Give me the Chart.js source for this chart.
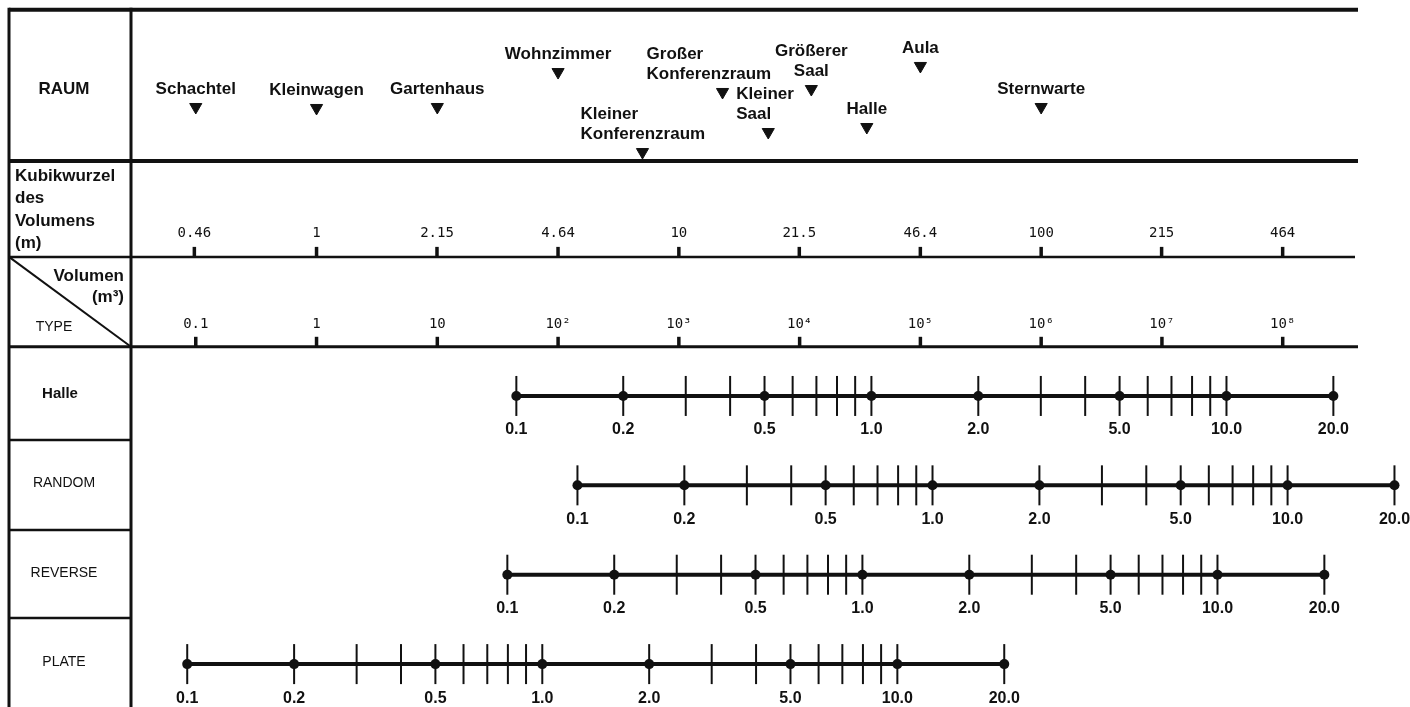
<!DOCTYPE html>
<html>
<head>
<meta charset="utf-8">
<script src="https://cdn.jsdelivr.net/npm/chart.js@4.4.0/dist/chart.umd.min.js"></script>
<style>
  html, body { margin: 0; padding: 0; background: #fff; }
  #wrap { width: 1410px; height: 707px; }
</style>
</head>
<body>
<div id="wrap"><canvas id="nomogramm" width="1410" height="707"></canvas></div>
<script>
const raeume = ['Schachtel', 'Kleinwagen', 'Gartenhaus', 'Wohnzimmer', 'Kleiner Konferenzraum',
    'Großer Konferenzraum', 'Kleiner Saal', 'Größerer Saal', 'Halle', 'Aula', 'Sternwarte'];
const raumVolumen = [0.1, 1, 10, 100, 500, 2300, 5500, 12500, 36000, 1e5, 1e6];

// Skalen oben: Kubikwurzel und Volumen
const kubikWerte = [0.46, 1, 2.15, 4.64, 10, 21.5, 46.4, 100, 215, 464];
const kubikLabels = ['0.46', '1', '2.15', '4.64', '10', '21.5', '46.4', '100', '215', '464'];
const volumenTicks = [0.1, 1, 10, 1e2, 1e3, 1e4, 1e5, 1e6, 1e7, 1e8];
const volumenLabels = ['0.1', '1', '10', '10²', '10³', '10⁴', '10⁵', '10⁶', '10⁷', '10⁸'];

// Typen mit Nachhallzeit-Skala (s); Volumen, das bei 1.0 s liegt
const typen = ['Halle', 'RANDOM', 'REVERSE', 'PLATE'];
const typVolumenBei1s = [39300, 126000, 33100, 74];
const zeitHaupt = [0.1, 0.2, 0.5, 1, 2, 5, 10, 20];
const zeitHauptLabels = ['0.1', '0.2', '0.5', '1.0', '2.0', '5.0', '10.0', '20.0'];
const zeitNeben = [0.3, 0.4, 0.6, 0.7, 0.8, 0.9, 3, 4, 6, 7, 8, 9];

// Volumen-Dekaden pro Zeit-Dekade (im Bild ~2.94)
const dekadenFaktor = 2.94;

// --- Layout (keine Daten) ---
const yMin = 0.02, yMax = 7.93;
const pxProEinheit = 707 / (yMax - yMin);
const zeilen = { oben: 7.82, raum: 6.13, kubik: 5.056, volumen: 4.05, typGrenzen: [3.008, 2.0, 1.015] };
const raumEbene = [6.733, 6.722, 6.733, 7.124, 6.229, 6.901, 6.453, 6.934, 6.509, 7.192, 6.733];
const raumText = [null, null, null, null, { align: 'left', dx: -62 }, { align: 'left', dx: -76 },
    { align: 'left', dx: -32 }, null, null, null, null];
const tinte = '#111';
const schrift = "'Liberation Sans', Arial, Helvetica, sans-serif";

function typZeile(i) { return typen.length - i - 0.5; }
function zeitZuVolumen(i, t) { return typVolumenBei1s[i] * Math.pow(t, dekadenFaktor); }

const datasets = [];

// Dreiecke der Räume
datasets.push({
    label: 'Räume',
    data: raeume.map((r, i) => ({ x: raumVolumen[i], y: raumEbene[i] })),
    pointStyle: 'triangle', rotation: 180, pointRadius: 7,
    backgroundColor: tinte, borderColor: tinte, borderWidth: 1
});

// Striche auf den oberen Achsen
const strichOffset = 5 / pxProEinheit;
datasets.push({
    label: 'Kubikwurzel',
    data: kubikWerte.map(k => ({ x: Math.pow(k, 3), y: zeilen.kubik + strichOffset })),
    pointStyle: 'line', rotation: 90, pointRadius: 5, borderWidth: 3.5, borderColor: tinte
});
datasets.push({
    label: 'Volumen',
    data: volumenTicks.map(v => ({ x: v, y: zeilen.volumen + strichOffset })),
    pointStyle: 'line', rotation: 90, pointRadius: 5, borderWidth: 3.5, borderColor: tinte
});

// Zeitskalen je Typ
typen.forEach((typ, i) => {
    const y = typZeile(i);
    datasets.push({
        label: typ + ' Punkte',
        data: zeitHaupt.map(t => ({ x: zeitZuVolumen(i, t), y })),
        pointStyle: 'circle', pointRadius: 5, backgroundColor: tinte, borderWidth: 0
    });
    datasets.push({
        label: typ + ' Striche',
        data: zeitHaupt.concat(zeitNeben).map(t => ({ x: zeitZuVolumen(i, t), y })),
        pointStyle: 'line', rotation: 90, pointRadius: 20, borderWidth: 2, borderColor: tinte
    });
    datasets.push({
        label: typ + ' Linie',
        data: [zeitHaupt[0], zeitHaupt[zeitHaupt.length - 1]].map(t => ({ x: zeitZuVolumen(i, t), y })),
        showLine: true, borderWidth: 4, borderColor: tinte, pointRadius: 0
    });
});

const rahmenPlugin = {
    id: 'rahmen',
    beforeDatasetsDraw(chart) {
        const ctx = chart.ctx, ys = chart.scales.y;
        const links = 9, spalte = 131, rechts = 1358;
        const linie = (x1, y1, x2, y2, w) => {
            ctx.lineWidth = w;
            ctx.beginPath(); ctx.moveTo(x1, y1); ctx.lineTo(x2, y2); ctx.stroke();
        };
        ctx.save();
        ctx.strokeStyle = tinte;
        ctx.lineCap = 'butt';
        const oben = ys.getPixelForValue(zeilen.oben);
        linie(links, oben, rechts, oben, 4);
        linie(links, ys.getPixelForValue(zeilen.raum), rechts, ys.getPixelForValue(zeilen.raum), 4);
        linie(links, ys.getPixelForValue(zeilen.kubik), rechts - 3, ys.getPixelForValue(zeilen.kubik), 2.5);
        linie(links, ys.getPixelForValue(zeilen.volumen), rechts, ys.getPixelForValue(zeilen.volumen), 3);
        zeilen.typGrenzen.forEach(g => linie(links, ys.getPixelForValue(g), spalte, ys.getPixelForValue(g), 2.5));
        linie(links, oben - 2, links, 707, 3);
        linie(spalte, oben - 2, spalte, 707, 3);
        linie(links, ys.getPixelForValue(zeilen.kubik), spalte, ys.getPixelForValue(zeilen.volumen), 2);
        ctx.restore();
    }
};

const textPlugin = {
    id: 'beschriftung',
    afterDatasetsDraw(chart) {
        const ctx = chart.ctx, xs = chart.scales.x, ys = chart.scales.y;
        ctx.save();
        ctx.fillStyle = tinte;
        ctx.textBaseline = 'middle';

        // linke Spalte
        const mitte = 64;
        ctx.textAlign = 'center';
        ctx.font = 'bold 17px ' + schrift;
        ctx.fillText('RAUM', mitte, (ys.getPixelForValue(zeilen.oben) + ys.getPixelForValue(zeilen.raum)) / 2 + 4);
        ctx.textAlign = 'left';
        ['Kubikwurzel', 'des', 'Volumens', '(m)'].forEach((t, k) => ctx.fillText(t, 15, 176 + k * 22.5));
        ctx.textAlign = 'right';
        ctx.fillText('Volumen', 124, 276);
        ctx.fillText('(m³)', 124, 297);
        ctx.textAlign = 'center';
        ctx.font = '14px ' + schrift;
        ctx.fillText('TYPE', 54, 327);
        typen.forEach((typ, i) => {
            ctx.font = (typ === 'Halle' ? 'bold 15px ' : '14px ') + schrift;
            ctx.fillText(typ, typ === 'Halle' ? 60 : mitte, ys.getPixelForValue(typZeile(i)) - 2);
        });

        // Raumnamen über den Dreiecken
        ctx.font = 'bold 17px ' + schrift;
        raeume.forEach((r, i) => {
            const x = xs.getPixelForValue(raumVolumen[i]);
            const y = ys.getPixelForValue(raumEbene[i]);
            const zeilenText = r.split(' ');
            const opt = raumText[i];
            ctx.textAlign = opt ? opt.align : 'center';
            const tx = opt ? x + opt.dx : x;
            zeilenText.forEach((z, k) => {
                ctx.fillText(z, tx, y - 18 - (zeilenText.length - 1 - k) * 20);
            });
        });

        // Beschriftung der oberen Achsen
        ctx.textAlign = 'center';
        ctx.font = "14px 'DejaVu Sans Mono', 'Liberation Mono', monospace";
        const kubikY = ys.getPixelForValue(zeilen.kubik);
        kubikWerte.forEach((k, j) => ctx.fillText(kubikLabels[j], xs.getPixelForValue(Math.pow(k, 3)), kubikY - 24));
        const volY = ys.getPixelForValue(zeilen.volumen);
        volumenTicks.forEach((v, j) => ctx.fillText(volumenLabels[j], xs.getPixelForValue(v), volY - 22));

        // Zeitskalen
        ctx.font = 'bold 16px ' + schrift;
        typen.forEach((typ, i) => {
            const y = ys.getPixelForValue(typZeile(i)) + 34;
            zeitHaupt.forEach((t, j) => ctx.fillText(zeitHauptLabels[j], xs.getPixelForValue(zeitZuVolumen(i, t)), y));
        });
        ctx.restore();
    }
};

new Chart(document.getElementById('nomogramm').getContext('2d'), {
    type: 'scatter',
    data: { datasets },
    options: {
        responsive: false,
        animation: false,
        events: [],
        layout: { padding: 0, autoPadding: false },
        plugins: { legend: { display: false }, tooltip: { enabled: false } },
        scales: {
            x: { type: 'logarithmic', min: Math.pow(10, -2.621), max: Math.pow(10, 9.054), display: false },
            y: { type: 'linear', min: yMin, max: yMax, display: false }
        }
    },
    plugins: [rahmenPlugin, textPlugin]
});
</script>
</body>
</html>
